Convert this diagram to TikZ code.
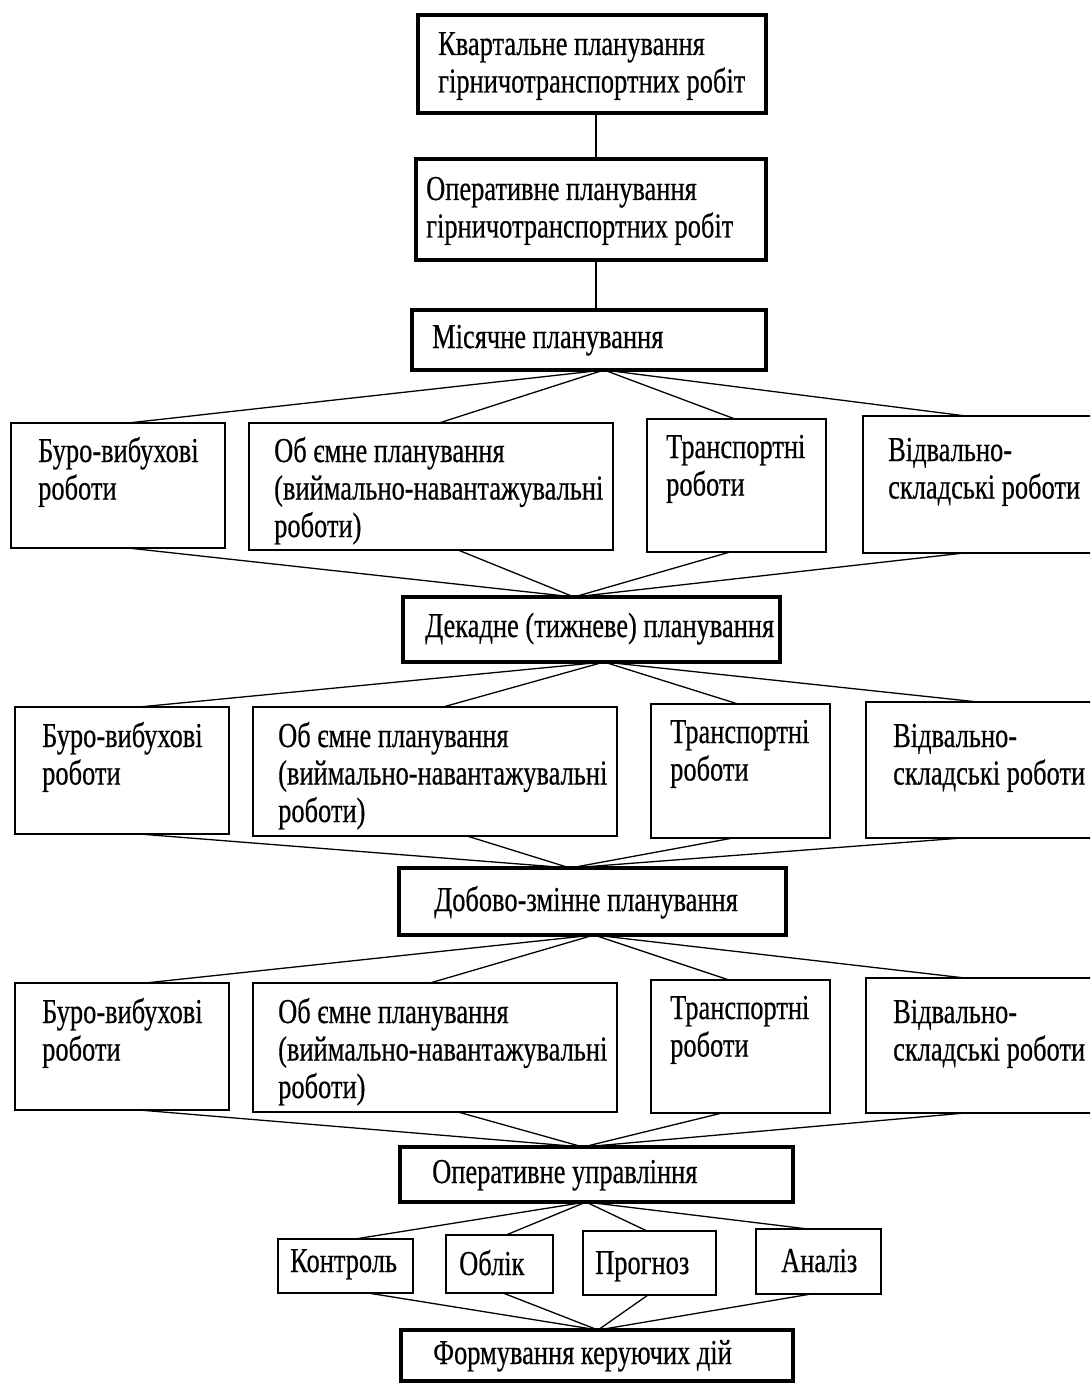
\documentclass[tikz,border=0pt]{standalone}
\usepackage{fontspec}
\setmainfont{Liberation Serif}[FakeStretch=0.755,FakeBold=0.4]
\usetikzlibrary{fit,calc}
\newcommand\atS[2]{($(#1.south west)!(#2,0)!(#1.south east)$)}
\newcommand\atN[2]{($(#1.north west)!(#2,0)!(#1.north east)$)}
\begin{document}
\begin{tikzpicture}[x=1pt,y=-1pt,
  thickbox/.style={draw, line width=3.5pt, inner sep=0pt, outer sep=0pt},
  thinbox/.style={draw, line width=1.4pt, inner sep=0pt, outer sep=0pt},
  conn/.style={draw, line width=1.3pt},
  txt/.style={anchor=base west, inner sep=0pt, font=\fontsize{35}{37.5}\selectfont}]
\useasboundingbox (0,0) rectangle (1090,1383);
\clip (0,0) rectangle (1090,1383);
% main (thick) boxes
\node[thickbox, fit={(418,15) (766,113)}] (q) {};
\node[thickbox, fit={(416,159) (766,260)}] (o) {};
\node[thickbox, fit={(412,310) (766,370)}] (m) {};
\node[thickbox, fit={(403,597) (780,662)}] (d) {};
\node[thickbox, fit={(399,868) (786,935)}] (z) {};
\node[thickbox, fit={(400,1147) (793,1202)}] (u) {};
\node[thickbox, fit={(401,1330) (793,1381)}] (f) {};
% row 1
\node[thinbox, fit={(11,423) (225,548)}] (a1) {};
\node[thinbox, fit={(249,423) (613,550)}] (a2) {};
\node[thinbox, fit={(647,419) (826,552)}] (a3) {};
\node[thinbox, fit={(863,416) (1110,553)}] (a4) {};
% row 2
\node[thinbox, fit={(15,707) (229,834)}] (b1) {};
\node[thinbox, fit={(253,707) (617,836)}] (b2) {};
\node[thinbox, fit={(651,704) (830,838)}] (b3) {};
\node[thinbox, fit={(866,702) (1110,838)}] (b4) {};
% row 3
\node[thinbox, fit={(15,983) (229,1110)}] (c1) {};
\node[thinbox, fit={(253,983) (617,1112)}] (c2) {};
\node[thinbox, fit={(651,980) (830,1113)}] (c3) {};
\node[thinbox, fit={(866,978) (1110,1113)}] (c4) {};
% small boxes
\node[thinbox, fit={(278,1239) (413,1293)}] (s1) {};
\node[thinbox, fit={(446,1235) (553,1293)}] (s2) {};
\node[thinbox, fit={(583,1231) (716,1295)}] (s3) {};
\node[thinbox, fit={(756,1229) (881,1294)}] (s4) {};
% texts
\node[txt] (tq) at (438,55) {\parbox[t]{400pt}{Квартальне планування\\гірничотранспортних робіт}};
\node[txt] (to) at (426,200) {\parbox[t]{400pt}{Оперативне планування\\гірничотранспортних робіт}};
\node[txt] (tm) at (432,348) {Місячне планування};
\node[txt] (ta1) at (38,462) {\parbox[t]{300pt}{Буро-вибухові\\роботи}};
\node[txt] (ta2) at (274,462) {\parbox[t]{400pt}{Об ємне планування\\(виймально-навантажувальні\\роботи)}};
\node[txt] (ta3) at (666,458) {\parbox[t]{300pt}{Транспортні\\роботи}};
\node[txt] (ta4) at (888,461) {\parbox[t]{300pt}{Відвально-\\складські роботи}};
\node[txt] (td) at (425,637) {Декадне (тижневе) планування};
\node[txt] (tb1) at (42,747) {\parbox[t]{300pt}{Буро-вибухові\\роботи}};
\node[txt] (tb2) at (278,747) {\parbox[t]{400pt}{Об ємне планування\\(виймально-навантажувальні\\роботи)}};
\node[txt] (tb3) at (670,743) {\parbox[t]{300pt}{Транспортні\\роботи}};
\node[txt] (tb4) at (893,747) {\parbox[t]{300pt}{Відвально-\\складські роботи}};
\node[txt] (tz) at (434,911) {Добово-змінне планування};
\node[txt] (tc1) at (42,1023) {\parbox[t]{300pt}{Буро-вибухові\\роботи}};
\node[txt] (tc2) at (278,1023) {\parbox[t]{400pt}{Об ємне планування\\(виймально-навантажувальні\\роботи)}};
\node[txt] (tc3) at (670,1019) {\parbox[t]{300pt}{Транспортні\\роботи}};
\node[txt] (tc4) at (893,1023) {\parbox[t]{300pt}{Відвально-\\складські роботи}};
\node[txt] (tu) at (432,1183) {Оперативне управління};
\node[txt] (ts1) at (290,1272) {Контроль};
\node[txt] (ts2) at (459,1275) {Облік};
\node[txt] (ts3) at (595,1274) {Прогноз};
\node[txt] (ts4) at (781,1272) {Аналіз};
\node[txt] (tf) at (433,1364) {Формування керуючих дій};
% connectors
\draw[conn] \atS{q}{596} -- \atN{o}{596};
\draw[conn] \atS{o}{596} -- \atN{m}{596};
\foreach \n/\x in {a1/128, a2/439, a3/735, a4/966}
  \draw[conn] \atS{m}{604} -- \atN{\n}{\x};
\foreach \n/\x in {a1/128, a2/458, a3/730, a4/964}
  \draw[conn] \atS{\n}{\x} -- \atN{d}{574};
\foreach \n/\x in {b1/139, b2/443, b3/738, b4/978}
  \draw[conn] \atS{d}{604} -- \atN{\n}{\x};
\foreach \n/\x in {b1/139, b2/467, b3/733, b4/962}
  \draw[conn] \atS{\n}{\x} -- \atN{z}{570};
\foreach \n/\x in {c1/145, c2/430, c3/729, c4/965}
  \draw[conn] \atS{z}{594} -- \atN{\n}{\x};
\foreach \n/\x in {c1/139, c2/458, c3/722, c4/965}
  \draw[conn] \atS{\n}{\x} -- \atN{u}{583};
\foreach \n/\x in {s1/355, s2/506, s3/647, s4/808}
  \draw[conn] \atS{u}{586} -- \atN{\n}{\x};
\foreach \n/\x in {s1/368, s2/503, s3/648, s4/811}
  \draw[conn] \atS{\n}{\x} -- \atN{f}{598};
\end{tikzpicture}
\end{document}
